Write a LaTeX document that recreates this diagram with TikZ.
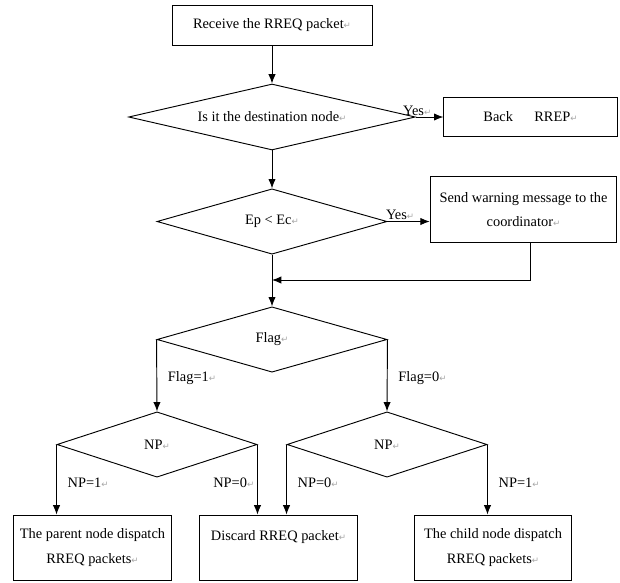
\documentclass[tikz,border=0pt]{standalone}
\usepackage{fontspec}
\setmainfont{Liberation Serif}
\newfontfamily\symfont{DejaVu Sans}
\usetikzlibrary{shapes.geometric,arrows.meta}
\newcommand{\pmark}{{\symfont\color{black!35}\fontsize{6.5}{6.5}\selectfont ↵}}

\begin{document}
\begin{tikzpicture}[x=0.75pt,y=-0.75pt,>={Latex[length=7pt,width=5.5pt]},line width=0.7pt,
  every node/.style={font=\fontsize{10.8}{18.5}\selectfont},
  box/.style={rectangle,draw=black,fill=white,inner sep=2pt,align=center},
  leaf/.style={box,minimum width=118pt,minimum height=48.75pt},
  decide/.style={diamond,draw=black,fill=white,inner sep=0pt,aspect=4},
  lbl/.style={inner sep=1pt}]
\useasboundingbox (0,0) rectangle (620,582);

\node (recv) at (272,25)[box,minimum width=150pt,minimum height=30pt]{Receive the RREQ packet\pmark};
\node (dest) at (272,117)[decide,minimum width=215pt,minimum height=49.5pt]{Is it the destination node\pmark};
\node (back) at (530.5,117)[box,minimum width=130pt,minimum height=29pt]{Back\hspace{16pt}RREP\pmark};
\node (ener) at (272,221.5)[decide,minimum width=172.5pt,minimum height=49pt]{Ep < Ec\pmark};
\node (warn) at (523.5,209.5)[box,minimum width=140pt,minimum height=49pt]{Send warning message to the\\coordinator\pmark};
\node (flag) at (272,339.5)[decide,minimum width=172.5pt,minimum height=49pt]{Flag\pmark};
\node (npa) at (157,444.5)[decide,minimum width=150pt,minimum height=49pt]{NP\pmark};
\node (npb) at (387,444.5)[decide,minimum width=150pt,minimum height=49pt]{NP\pmark};
\node (par) at (92.5,547.5)[leaf]{The parent node dispatch\\RREQ packets\pmark};
\node (dis) at (278.5,547.5)[leaf]{Discard RREQ packet\pmark\\\mbox{}};
\node (chd) at (493,547.5)[leaf]{The child node dispatch\\RREQ packets\pmark};
\coordinate (join) at (272,280);

\draw[->] (recv)--(dest);
\draw[->] (dest.east)--node[lbl,above,pos=0.05]{Yes\pmark}(back.west);
\draw[->] (dest)--(ener);
\draw[->] (ener.east)--node[lbl,above,pos=0.3]{Yes\pmark}(ener.east -| warn.west);
\draw[->] ([xshift=5.5pt]warn.south) |- (join);
\draw[->] (ener)--(flag);

\draw[->] (flag.west)--node[lbl,right=7pt,pos=0.53]{Flag=1\pmark}(npa.north);
\draw[->] (flag.east)--node[lbl,right=7pt,pos=0.53]{Flag=0\pmark}(npb.north);

\draw[->] (npa.west)--node[lbl,right=7pt,pos=0.55]{NP=1\pmark}(npa.west |- par.north);
\draw[->] (npa.east)--node[lbl,left=1pt,pos=0.55]{NP=0\pmark}(npa.east |- dis.north);
\draw[->] (npb.west)--node[lbl,right=7pt,pos=0.55]{NP=0\pmark}(npb.west |- dis.north);
\draw[->] (npb.east)--node[lbl,right=7pt,pos=0.55]{NP=1\pmark}(npb.east |- chd.north);
\end{tikzpicture}
\end{document}
